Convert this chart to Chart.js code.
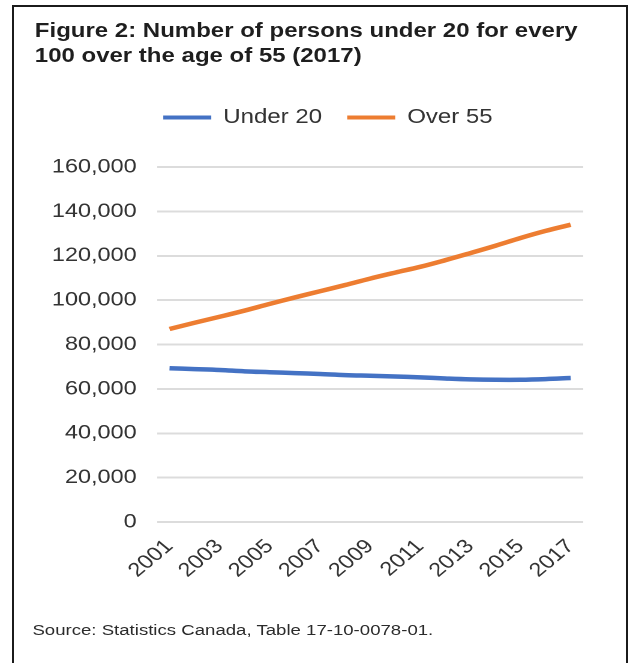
<!DOCTYPE html>
<html>
<head>
<meta charset="utf-8">
<script src="https://cdn.jsdelivr.net/npm/chart.js@4.4.1/dist/chart.umd.min.js"></script>
<style>
  html, body { margin: 0; padding: 0; background: #fff; overflow: hidden; }
  body { width: 634px; height: 663px; position: relative; font-family: "Liberation Sans", Arial, sans-serif; }
  #frame {
    position: absolute; left: 12px; top: 5px; width: 616px; height: 700px;
    box-sizing: border-box; border: 2px solid #1b1b1b;
  }
  /* the figure is drawn a bit narrow and widened to fill the frame */
  #figure {
    position: absolute; left: 0; top: 0; width: 528px; height: 663px;
    transform: scaleX(1.2); transform-origin: 0 0;
  }
  #title {
    position: absolute; left: 29px; top: 18px;
    font-weight: bold; font-size: 20px; line-height: 25px; color: #1e1e1e;
    white-space: nowrap;
  }
  #chart { position: absolute; left: 0; top: 0; }
  #source {
    position: absolute; left: 27px; top: 622px;
    font-size: 15.5px; line-height: 15.5px; color: #2b2b2b; white-space: nowrap;
  }
</style>
</head>
<body>
<div id="frame"></div>
<div id="figure">
  <div id="title">Figure 2: Number of persons under 20 for every<br>100 over the age of 55 (2017)</div>
  <canvas id="chart" width="528" height="600"></canvas>
  <div id="source">Source: Statistics Canada, Table 17-10-0078-01.</div>
</div>
<script>
const years = ["2001", "2002", "2003", "2004", "2005", "2006", "2007", "2008", "2009",
  "2010", "2011", "2012", "2013", "2014", "2015", "2016", "2017"];
const under20 = [69300, 68900, 68500, 67900, 67500, 67100, 66700, 66200, 65900,
  65600, 65200, 64700, 64300, 64100, 64100, 64400, 64900];
const over55 = [87000, 89800, 92500, 95300, 98300, 101200, 104000, 106800, 109700,
  112400, 115000, 118000, 121200, 124500, 128000, 131200, 134000];
const yTicks = [0, 20000, 40000, 60000, 80000, 100000, 120000, 140000, 160000];

const font = "'Liberation Sans', Arial, sans-serif";

// room under the legend, and nudge it right so it sits over the plot
const legendPlacement = {
  id: "legendPlacement",
  beforeInit(chart) {
    const fit = chart.legend.fit;
    chart.legend.fit = function () {
      fit.bind(chart.legend)();
      this.height += 29.5;
    };
  },
  afterLayout(chart) {
    chart.legend.left += 9.5;
    chart.legend.right += 9.5;
  },
};

const ctx = document.getElementById("chart").getContext("2d");
const chart = new Chart(ctx, {
  type: "line",
  data: {
    labels: years,
    datasets: [
      {
        label: "Under 20",
        data: under20,
        borderColor: "#4472C4",
        backgroundColor: "#4472C4",
        borderWidth: 4.5,
        pointRadius: 0,
        tension: 0.4,
      },
      {
        label: "Over 55",
        data: over55,
        borderColor: "#ED7D31",
        backgroundColor: "#ED7D31",
        borderWidth: 4.5,
        pointRadius: 0,
        tension: 0.4,
      },
    ],
  },
  options: {
    responsive: false,
    devicePixelRatio: 2,
    animation: false,
    events: [],
    layout: {
      padding: { top: 86.5, left: 41.5, right: 42, bottom: 0 },
    },
    plugins: {
      legend: {
        position: "top",
        labels: {
          boxWidth: 40,
          boxHeight: 4,
          padding: 21,
          color: "#333",
          font: { family: font, size: 20 },
          generateLabels(chart) {
            return Chart.defaults.plugins.legend.labels.generateLabels(chart).map((item) => ({
              ...item,
              fillStyle: item.strokeStyle,
              lineWidth: 0,
            }));
          },
        },
      },
      tooltip: { enabled: false },
    },
    scales: {
      x: {
        offset: true,
        grid: { display: false, drawTicks: false },
        border: { display: false },
        ticks: {
          autoSkip: false,
          minRotation: 45,
          maxRotation: 45,
          padding: 13,
          color: "#333",
          font: { family: font, size: 19.5 },
          callback: function (value, index) {
            return index % 2 === 0 ? this.getLabelForValue(value) : "";
          },
        },
        afterFit(scale) {
          scale.height = 78;
        },
      },
      y: {
        min: 0,
        max: 160000,
        afterBuildTicks(scale) {
          scale.ticks = yTicks.map((v) => ({ value: v }));
        },
        grid: { color: "#dcdcdc", lineWidth: 2, drawTicks: false },
        border: { display: false },
        ticks: {
          padding: 17,
          color: "#333",
          font: { family: font, size: 19.5 },
          callback: (v) => v.toLocaleString("en-US"),
        },
        afterFit(scale) {
          scale.width = 89.3;
        },
      },
    },
  },
  plugins: [legendPlacement],
});
</script>
</body>
</html>
